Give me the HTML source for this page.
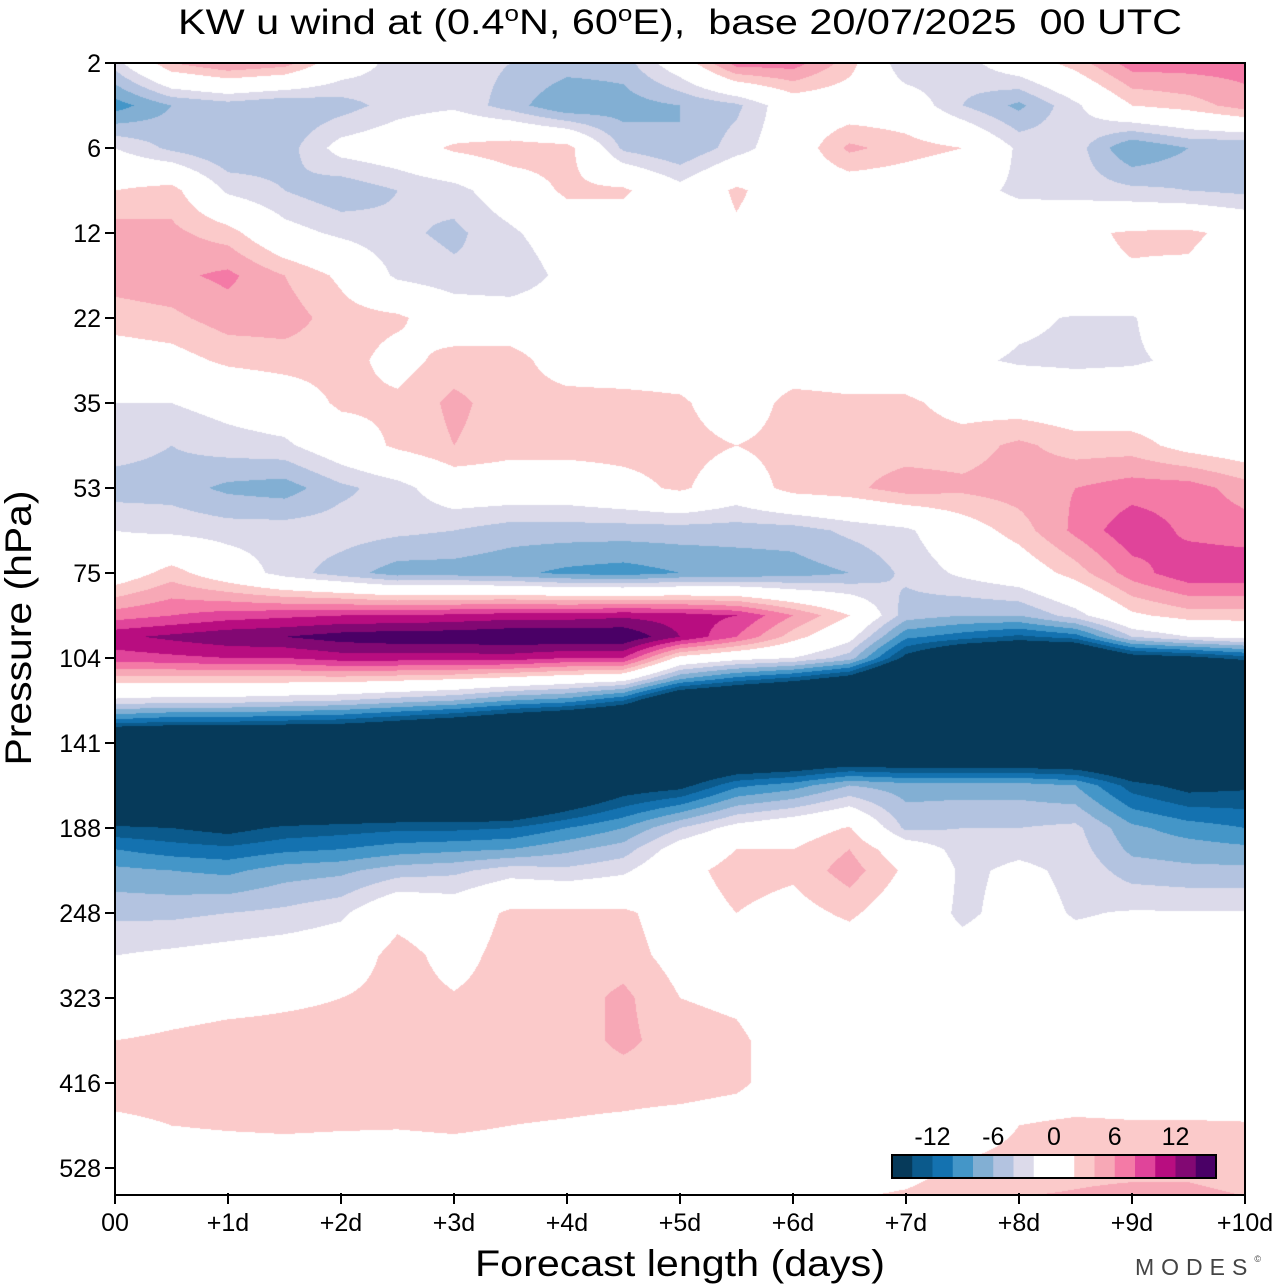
<!DOCTYPE html>
<html><head><meta charset="utf-8"><title>KW u wind</title>
<style>
html,body{margin:0;padding:0;background:#fff;}
#wrap{position:relative;width:1280px;height:1286px;overflow:hidden;}
#field{position:absolute;left:115px;top:63px;}
svg{position:absolute;left:0;top:0;}
text{font-family:"Liberation Sans",sans-serif;fill:#000;}
</style></head>
<body>
<div id="wrap">
<canvas id="field" width="1130" height="1132"></canvas>
<svg id="ov" width="1280" height="1286">
  <text x="680" y="34" text-anchor="middle" font-size="35" textLength="1004" lengthAdjust="spacingAndGlyphs" xml:space="preserve" style="white-space:pre">KW u wind at (0.4<tspan dy="-13" font-size="22">o</tspan><tspan dy="13">N, 60</tspan><tspan dy="-13" font-size="22">o</tspan><tspan dy="13">E),  base 20/07/2025  00 UTC</tspan></text>
  <g id="yaxis"></g>
  <g id="xaxis"></g>
  <rect x="115" y="63" width="1130" height="1132" fill="none" stroke="#000" stroke-width="2"/>
  <text transform="translate(31,628) rotate(-90)" text-anchor="middle" font-size="37" textLength="275" lengthAdjust="spacingAndGlyphs">Pressure (hPa)</text>
  <text x="680" y="1276" text-anchor="middle" font-size="37" textLength="410" lengthAdjust="spacingAndGlyphs">Forecast length (days)</text>
  <g id="cbar"></g>
  <text x="1135" y="1275" font-size="23" fill="#444" style="fill:#444" letter-spacing="7">MODES<tspan font-size="9" dy="-13">©</tspan></text>
</svg>
</div>
<script>
// ---- data ----
const dayCols = [0,0.5,1,1.5,2,2.5,3,3.5,4,4.5,5,5.5,6,6.5,7,7.5,8,8.5,9,9.5,10];
const levelIdx = [0,0.5,1,1.5,2,2.5,3,3.5,4,4.5,5,5.5,6,6.5,6.75,7,7.25,7.5,7.75,8,8.5,9,9.25,9.5,10,10.5,11,11.5,12,12.5,13,13.5];
const pressureTicks = ["2","6","12","22","35","53","75","104","141","188","248","323","416","528"];
const dayTicks = ["00","+1d","+2d","+3d","+4d","+5d","+6d","+7d","+8d","+9d","+10d"];
const cbarLevels = [-16,-14,-12,-10,-8,-6,-4,-2,0,2,4,6,8,10,12,14,16];
const cbarLabels = ["-12","-6","0","6","12"];
const cbarLabelVals = [-12,-6,0,6,12];
const colors = ["#063a5a","#0b5a8c","#1472b0","#4496c8","#82afd3","#b3c3e0","#dcdaea","#ffffff","#ffffff","#fbcaca","#f7a8b6","#f47aa6","#e0449a","#b80d80","#820873","#4a0066"];
const uwind = [
[-3,4,6,5,0,-3,-3,-4,-5,-5,0,7,7,3,-4,-3,0,3,7,7,7],
[-9,-6,-5,-6,-5,-3,-2.5,-5,-8,-7,-6,-4.5,0,0,0,-4,-6.5,-2.5,2,3,5],
[-2,-4.5,-6,-5,-1,0,2.5,3.5,3,-4.5,-6,-3,0,4.5,3,2,-2.5,-3,-8,-6,-6],
[2,3,-2.5,-4,-5.5,-4,-3,0,2.5,2.5,-1,2.5,0,0,0,-1,-2.5,-3,-3.5,-4,-4.5],
[5,4.5,3,-1,-2.5,-3.5,-4.5,-2.5,0,0,0,1.5,0,0,0,0,0,1.5,2.3,2.5,1],
[5,5.5,6.5,4,1.5,-2.5,-3.5,-4,-1,0,0,0,0,0,0,0,0,1.5,1.8,1.5,0],
[3,3.5,5,5,3,2.5,0,0,0,0,0,0,0,0,0,0,-1.5,-2.2,-2.2,0,0],
[0.5,1,2.5,3,3,1,3,3,0.5,0,0,0,0,0,0,-1.5,-2.3,-2.5,-2.3,-1.5,0],
[-2,-2,-1,0,2.5,2.5,4.5,3,3,3,2.5,0,3,2.5,2.5,1,0.5,0,0,0,0],
[-3,-4,-3,-2.5,0,2.5,4,3,3,3,3,2,3,3,3,3,4.5,3,3,1,0],
[-5,-5,-6.5,-7,-4.5,-3,0,0,0,1,2.5,0,3,3.5,5,4.5,5,6,7,7,5],
[-2,-2.5,-3,-3,-3,-3.5,-4,-5,-5,-5,-5,-5,-5,-3.5,-2.5,0.5,3,6.5,9.5,7.5,7],
[0,3,0,-3,-5,-7,-7,-7.5,-8.5,-9,-8,-7.5,-7,-6,-3.5,-1.5,0,3,7,9.5,9.5],
[7,8,9,9.5,10,10,10.5,11,11,11.5,11,10,6,2,-5,-6,-6,-3,1.5,3,3],
[11.5,12.5,13.5,14,15,15.5,15.5,16,16,16,12,8,3,-1,-9.5,-11,-12.5,-11,-4,-2,-1],
[9,9.5,10,10,11,11,11,11,10,10,1,-1,-2,-5,-15,-20,-22,-22,-16,-15,-13],
[3,3,3,3,3,2.5,2,1,0,-1,-8,-11,-13,-16,-24,-24,-24,-24,-24,-24,-24],
[-2.5,-3,-3,-3.5,-4,-5,-6,-8,-9,-12,-20,-22,-24,-24,-24,-24,-24,-24,-24,-24,-24],
[-11,-12,-12,-12.5,-13,-14.5,-16,-18,-20,-22,-24,-24,-24,-24,-24,-24,-24,-24,-24,-24,-24],
[-24,-24,-24,-24,-24,-24,-24,-24,-24,-24,-24,-24,-24,-24,-24,-24,-24,-24,-24,-24,-24],
[-24,-24,-24,-24,-24,-24,-24,-24,-20,-16,-15,-10.5,-9,-6,-7,-7,-7,-8,-13,-15,-14.5],
[-13.5,-14,-15,-13.5,-13,-12.5,-12.5,-12,-10,-8,-4,-1,0.5,2.2,-4.5,-4,-4,-3.5,-7.5,-9,-10],
[-10,-11,-11.5,-10.5,-10,-9,-8.5,-8,-6.5,-5,-0.5,2,2,4,0,-3,-2.5,-3,-6.5,-7,-7.5],
[-7.5,-8,-8.5,-7,-6.5,-5,-4.5,-3,-3.5,-2.5,1,3,2.5,5,1.5,-2.5,-1.5,-2.5,-5,-5.5,-5.5],
[-4.5,-4.5,-4,-3.5,-2.5,1,0,2.5,2.5,2.5,0.5,2,1,2.5,0,-2.5,-1,-2.2,-1.8,-1.8,-1.8],
[-2,-1.5,-1,-0.5,0,3,1,3,3,3,1,0.5,0,0,-1,-1,0,-1,-1,-0.5,-0.5],
[-0.5,0.5,1,1.5,2,3,2.2,3,3,4.5,2,1.5,0,0,0,0,0,0,0,0,0],
[2,2.5,3,3,3,3,3,3,3,4.5,3,2.5,0.5,0,0,0,0,0,0,0,0],
[3,3,3,3,3,3,3,3,3,3,3,2.5,0.5,0,0,0,0,0,0,0,0],
[1.5,2,2.3,2.5,2.3,2.2,2.5,2,1.8,1.5,1,0.5,0,0,0,0,2,2.5,2.3,2.3,2.2],
[0,0,0,0,0,0,0,0,0,0,0,0,0,0.5,1,2.5,3,3.5,3.5,3.5,3],
[0,0,0,0,0,0,0,0,0,0,0,0,0,2.5,3,3.5,4.5,4.5,5,5,4.5]
];

// ---- axes ----
const X0 = 115, X1 = 1245, Y0 = 63, DY = 85;
function xOfDay(d){ return X0 + (X1 - X0) * d / 10; }
function yOfIdx(i){ return Y0 + DY * i; }
function dayOfX(px){ return (px - X0) * 10 / (X1 - X0); }
function idxOfY(py){ return (py - Y0) / DY; }
function hexRgb(h){ return [parseInt(h.slice(1,3),16),parseInt(h.slice(3,5),16),parseInt(h.slice(5,7),16)]; }
function bracket(arr, v){
  let i = 0;
  while (i < arr.length - 2 && arr[i+1] < v) i++;
  let t = (v - arr[i]) / (arr[i+1] - arr[i]);
  if (t < 0) t = 0; if (t > 1) t = 1;
  return [i, t];
}

// ---- field ----
(function(){
  const cv = document.getElementById('field');
  const ctx = cv.getContext('2d');
  const W = cv.width, H = cv.height;
  const img = ctx.createImageData(W, H);
  const rgb = colors.map(hexRgb);
  const colB = [], rowB = [];
  for (let x = 0; x < W; x++) colB.push(bracket(dayCols, dayOfX(X0 + x + 0.5)));
  for (let y = 0; y < H; y++) rowB.push(bracket(levelIdx, idxOfY(Y0 + y + 0.5)));
  for (let y = 0; y < H; y++) {
    const [ri, rt] = rowB[y];
    const r0 = uwind[ri], r1 = uwind[ri+1];
    for (let x = 0; x < W; x++) {
      const [ci, ct] = colB[x];
      const a = r0[ci] + (r0[ci+1] - r0[ci]) * ct;
      const b = r1[ci] + (r1[ci+1] - r1[ci]) * ct;
      const v = a + (b - a) * rt;
      let k = Math.floor((v - cbarLevels[0]) / 2);
      if (k < 0) k = 0; if (k > 15) k = 15;
      const c = rgb[k], p = (y * W + x) * 4;
      img.data[p] = c[0]; img.data[p+1] = c[1]; img.data[p+2] = c[2]; img.data[p+3] = 255;
    }
  }
  ctx.putImageData(img, 0, 0);
})();

// ---- axis ticks & labels ----
const NS = 'http://www.w3.org/2000/svg';
function mk(tag, attrs, parent){
  const el = document.createElementNS(NS, tag);
  for (const k in attrs) el.setAttribute(k, attrs[k]);
  parent.appendChild(el);
  return el;
}
const yg = document.getElementById('yaxis');
pressureTicks.forEach((lab, i) => {
  const y = yOfIdx(i);
  const t = mk('line', {x1: 105, x2: 115, y1: y, y2: y, stroke: '#000', 'stroke-width': 2}, yg);
  
  
  const tx = mk('text', {x: 101, y: y + 9, 'text-anchor': 'end', 'font-size': 25}, yg);
  tx.textContent = lab;
  
  
});
const xg = document.getElementById('xaxis');
dayTicks.forEach((lab, i) => {
  const x = xOfDay(i);
  const t = mk('line', {x1: x, x2: x, y1: 1193, y2: 1204, stroke: '#000', 'stroke-width': 2}, xg);
  
  
  const tx = mk('text', {x: x, y: 1231, 'text-anchor': 'middle', 'font-size': 25}, xg);
  tx.textContent = lab;
  
  
});

// ---- colorbar ----
const cg = document.getElementById('cbar');
const CB0 = 892, CB1 = 1216, CBY = 1155, CBH = 23;
const bw = (CB1 - CB0) / colors.length;
function xOfCbar(v){ return CB0 + (v - cbarLevels[0]) / (cbarLevels[cbarLevels.length-1] - cbarLevels[0]) * (CB1 - CB0); }
colors.forEach((c, k) => {
  const r = mk('rect', {x: xOfCbar(cbarLevels[k]), y: CBY, width: bw + 0.5, height: CBH, fill: c}, cg);
  
  
});
const fr = mk('rect', {x: CB0, y: CBY, width: CB1 - CB0, height: CBH, fill: 'none', stroke: '#000', 'stroke-width': 2}, cg);


cbarLabels.forEach((lab, i) => {
  const tx = mk('text', {x: xOfCbar(cbarLabelVals[i]), y: 1145, 'text-anchor': 'middle', 'font-size': 25}, cg);
  tx.textContent = lab;
  
  
});
</script>
</body></html>
